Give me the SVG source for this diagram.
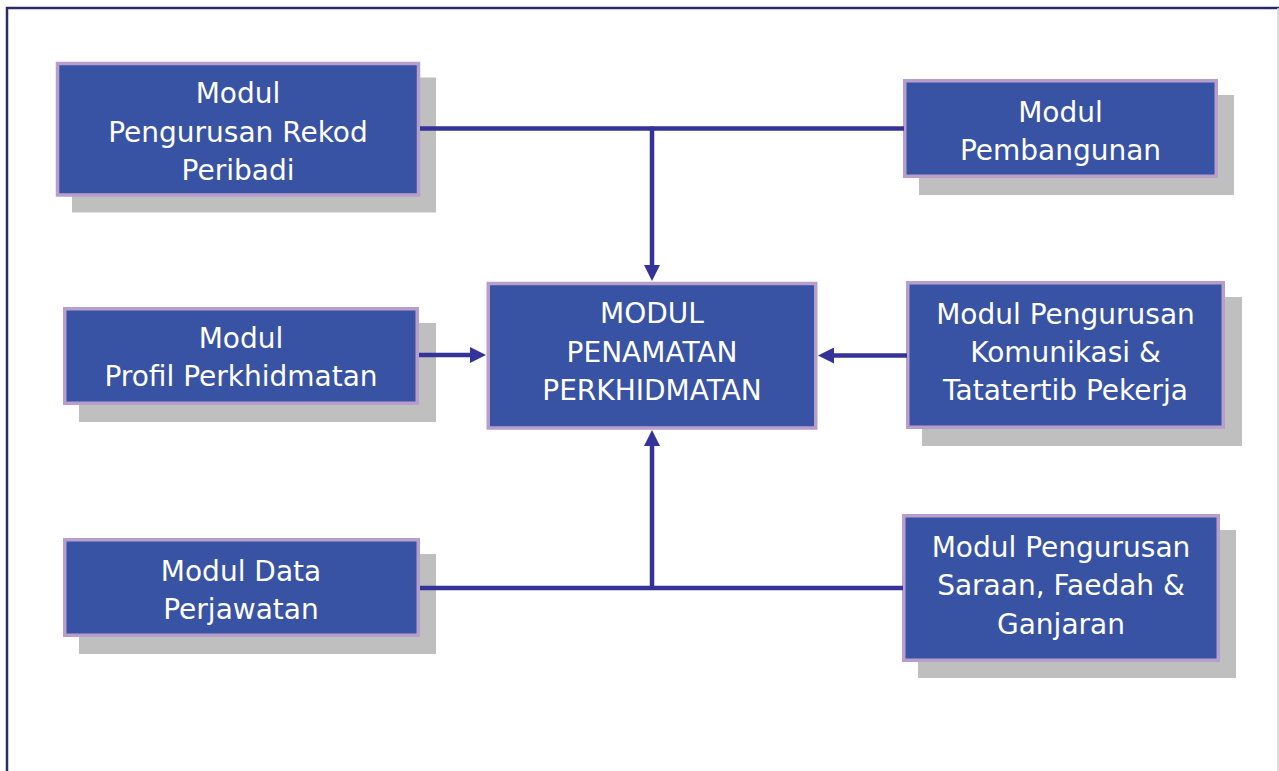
<svg xmlns="http://www.w3.org/2000/svg" width="1279" height="771" viewBox="0 0 1279 771">
  <defs>
    <style>
      .shadow { fill: #bfbfbf; }
      .box { fill: #3953a4; stroke: #b89fcb; stroke-width: 3.5; }
      .label { fill: #ffffff; font-family: "DejaVu Sans", "Verdana", sans-serif; font-size: 28px; text-anchor: middle; }
      .link { stroke: #333399; stroke-width: 4.5; fill: none; }
    </style>
    <marker id="head" markerUnits="userSpaceOnUse" markerWidth="16" markerHeight="16" viewBox="0 0 16 16" refX="6" refY="8" orient="auto">
      <path d="M0,0 L16,8 L0,16 Z" fill="#333399"/>
    </marker>
  </defs>

  <rect width="1279" height="771" fill="#ffffff"/>

  <!-- page frame -->
  <g id="frame">
    <polyline points="7,771 7,8 1279,8" fill="none" stroke="#2b2b6b" stroke-width="2.5"/>
    <line x1="1278" y1="8" x2="1278" y2="771" stroke="#d0d0d0" stroke-width="1.5"/>
  </g>

  <g id="node-rekod">
    <rect class="shadow" x="72" y="77.5" width="364" height="135"/>
    <rect class="box" x="57.5" y="63.5" width="361" height="131.5"/>
    <text class="label" x="238" y="103">Modul</text>
    <text class="label" x="238" y="141.5">Pengurusan Rekod</text>
    <text class="label" x="238" y="180">Peribadi</text>
  </g>

  <g id="node-profil">
    <rect class="shadow" x="79" y="323" width="357" height="99"/>
    <rect class="box" x="64.75" y="308.75" width="352.5" height="94.5"/>
    <text class="label" x="241" y="348">Modul</text>
    <text class="label" x="241" y="386">Profil Perkhidmatan</text>
  </g>

  <g id="node-data">
    <rect class="shadow" x="79" y="554" width="357" height="100"/>
    <rect class="box" x="64.75" y="539.75" width="353.5" height="95.5"/>
    <text class="label" x="241" y="581">Modul Data</text>
    <text class="label" x="241" y="619">Perjawatan</text>
  </g>

  <g id="node-penamatan">
    <rect class="box" x="488.25" y="283.5" width="327.5" height="144.5"/>
    <text class="label" x="652" y="323">MODUL</text>
    <text class="label" x="652" y="361.5">PENAMATAN</text>
    <text class="label" x="652" y="400">PERKHIDMATAN</text>
  </g>

  <g id="node-pembangunan">
    <rect class="shadow" x="919" y="95" width="315" height="100"/>
    <rect class="box" x="904.75" y="80.75" width="311.5" height="95.5"/>
    <text class="label" x="1060.5" y="121.5">Modul</text>
    <text class="label" x="1060.5" y="159.5">Pembangunan</text>
  </g>

  <g id="node-komunikasi">
    <rect class="shadow" x="922" y="297" width="320" height="149"/>
    <rect class="box" x="907.75" y="282.75" width="315.5" height="144.5"/>
    <text class="label" x="1065.5" y="323.5">Modul Pengurusan</text>
    <text class="label" x="1065.5" y="361.5">Komunikasi &amp;</text>
    <text class="label" x="1065.5" y="400">Tatatertib Pekerja</text>
  </g>

  <g id="node-saraan">
    <rect class="shadow" x="918" y="530" width="318" height="148"/>
    <rect class="box" x="903.75" y="515.75" width="314.5" height="144.5"/>
    <text class="label" x="1061" y="556.5">Modul Pengurusan</text>
    <text class="label" x="1061" y="595">Saraan, Faedah &amp;</text>
    <text class="label" x="1061" y="633.5">Ganjaran</text>
  </g>

  <!-- connectors: drawn over the drop shadows -->
  <g id="connectors">
    <line class="link" x1="420" y1="128.5" x2="904" y2="128.5"/>
    <line class="link" x1="652" y1="126.5" x2="652" y2="271" marker-end="url(#head)"/>
    <line class="link" x1="420" y1="588" x2="903" y2="588"/>
    <line class="link" x1="652" y1="590" x2="652" y2="440" marker-end="url(#head)"/>
    <line class="link" x1="419" y1="355" x2="476" y2="355" marker-end="url(#head)"/>
    <line class="link" x1="907" y1="355.5" x2="828" y2="355.5" marker-end="url(#head)"/>
  </g>
</svg>
